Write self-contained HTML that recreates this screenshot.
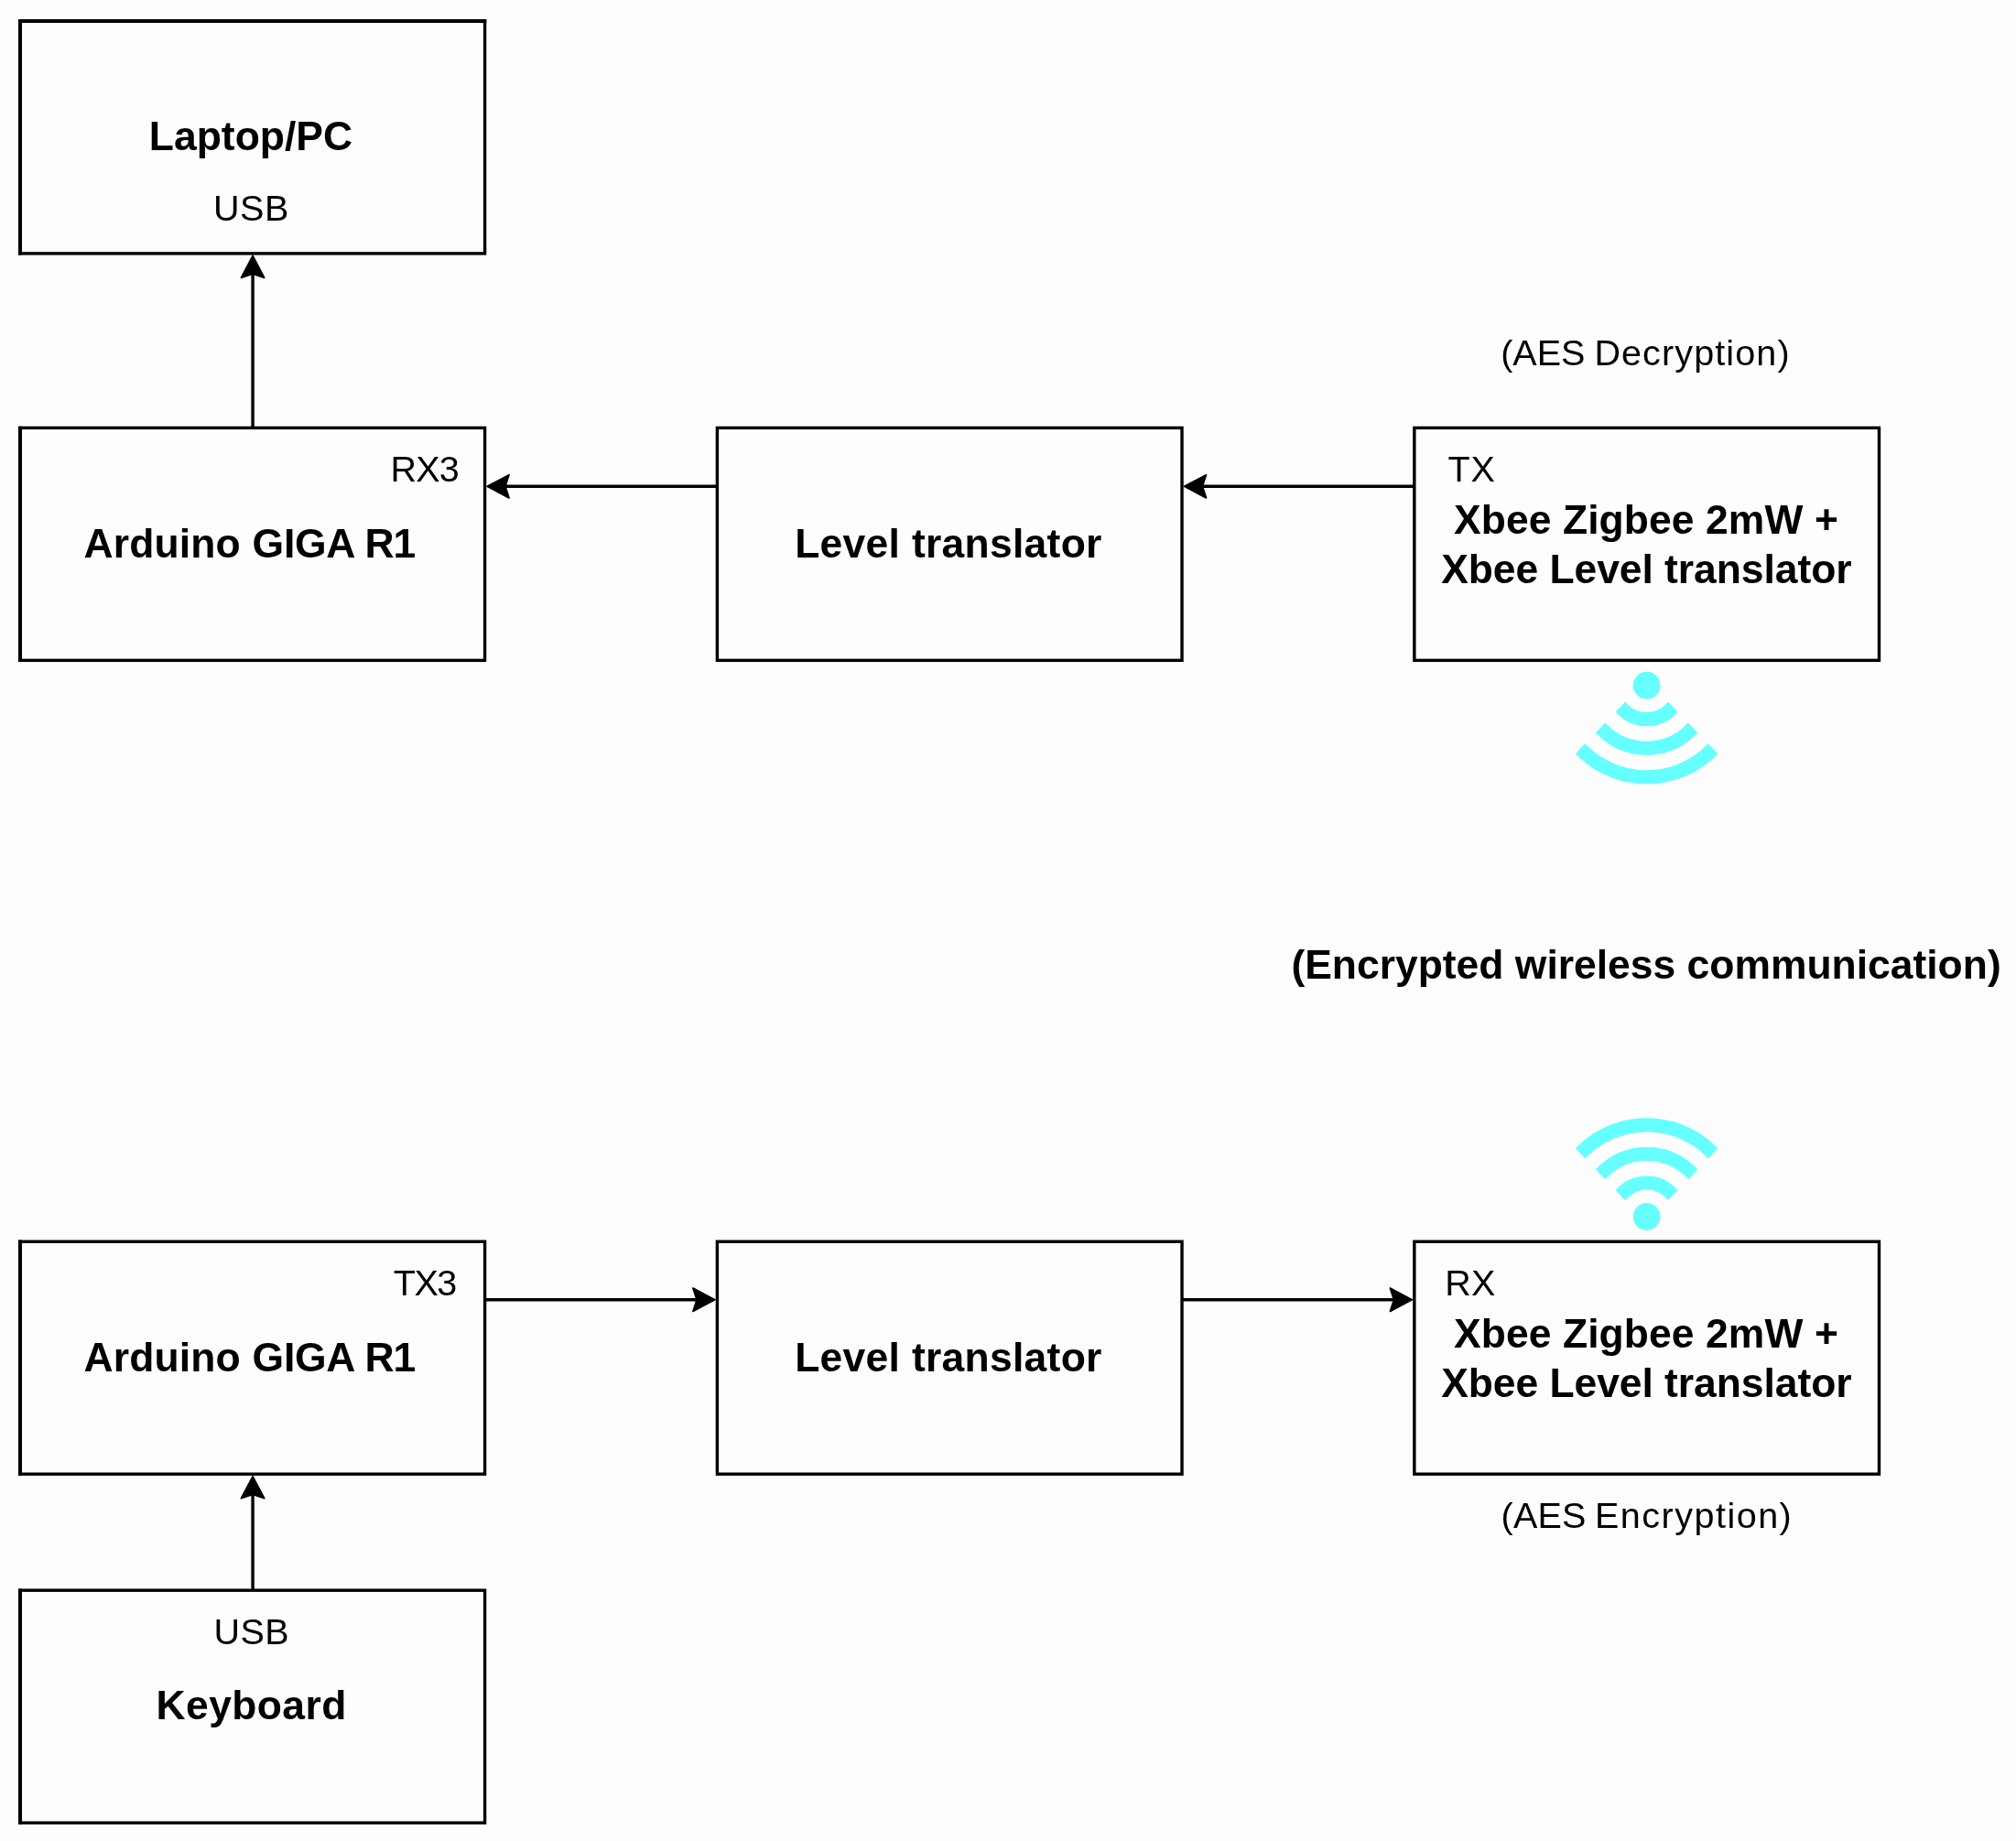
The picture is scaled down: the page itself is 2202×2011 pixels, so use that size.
<!DOCTYPE html>
<html lang="en"><head><meta charset="utf-8"><title>Encrypted wireless keyboard block diagram</title>
<style>html,body{margin:0;padding:0;background:#fdfdfd}body{width:2202px;height:2011px;overflow:hidden}svg{display:block;filter:blur(0.6px)}text{font-family:"Liberation Sans",sans-serif;fill:#000}.b{font-weight:bold;font-size:44.43px}.r{font-weight:normal;font-size:39.50px}</style></head><body>
<svg width="2202" height="2011" viewBox="0 0 2202 2011">
<rect x="0" y="0" width="2202" height="2011" fill="#fdfdfd"/>
<g id="boxes">
<rect x="21.95" y="22.95" width="507.63" height="253.96" fill="#fdfdfd" stroke="#000" stroke-width="3.4"/>
<rect x="21.95" y="467.38" width="507.63" height="253.96" fill="#fdfdfd" stroke="#000" stroke-width="3.4"/>
<rect x="783.40" y="467.38" width="507.63" height="253.96" fill="#fdfdfd" stroke="#000" stroke-width="3.4"/>
<rect x="1544.85" y="467.38" width="507.63" height="253.96" fill="#fdfdfd" stroke="#000" stroke-width="3.4"/>
<rect x="21.95" y="1356.24" width="507.63" height="253.96" fill="#fdfdfd" stroke="#000" stroke-width="3.4"/>
<rect x="783.40" y="1356.24" width="507.63" height="253.96" fill="#fdfdfd" stroke="#000" stroke-width="3.4"/>
<rect x="1544.85" y="1356.24" width="507.63" height="253.96" fill="#fdfdfd" stroke="#000" stroke-width="3.4"/>
<rect x="21.95" y="1737.18" width="507.63" height="253.96" fill="#fdfdfd" stroke="#000" stroke-width="3.4"/>
<path d="M22.00 21.25V278.61" fill="none" stroke="#000" stroke-width="4.05"/>
<path d="M19.95 22.95H531.28" fill="none" stroke="#000" stroke-width="4.1"/>
<path d="M22.00 465.68V723.04" fill="none" stroke="#000" stroke-width="4.05"/>
<path d="M22.00 1354.54V1611.90" fill="none" stroke="#000" stroke-width="4.05"/>
<path d="M22.00 1735.48V1992.84" fill="none" stroke="#000" stroke-width="4.05"/>
</g>
<g id="arrows">
<path d="M276.08 467.38L276.08 298.21" fill="none" stroke="#000" stroke-width="3.4"/>
<polygon points="276.08,279.51 288.68,303.31 276.08,299.21 263.48,303.31" fill="#000" stroke="#000" stroke-width="1.8" stroke-linejoin="round"/>
<path d="M783.40 531.28L550.88 531.28" fill="none" stroke="#000" stroke-width="3.4"/>
<polygon points="532.18,531.28 555.98,518.68 551.88,531.28 555.98,543.88" fill="#000" stroke="#000" stroke-width="1.8" stroke-linejoin="round"/>
<path d="M1544.85 531.28L1312.33 531.28" fill="none" stroke="#000" stroke-width="3.4"/>
<polygon points="1293.63,531.28 1317.43,518.68 1313.33,531.28 1317.43,543.88" fill="#000" stroke="#000" stroke-width="1.8" stroke-linejoin="round"/>
<path d="M529.58 1419.73L762.10 1419.73" fill="none" stroke="#000" stroke-width="3.4"/>
<polygon points="780.80,1419.73 757.00,1432.33 761.10,1419.73 757.00,1407.13" fill="#000" stroke="#000" stroke-width="1.8" stroke-linejoin="round"/>
<path d="M1291.03 1419.73L1523.55 1419.73" fill="none" stroke="#000" stroke-width="3.4"/>
<polygon points="1542.25,1419.73 1518.45,1432.33 1522.55,1419.73 1518.45,1407.13" fill="#000" stroke="#000" stroke-width="1.8" stroke-linejoin="round"/>
<path d="M276.08 1737.18L276.08 1631.50" fill="none" stroke="#000" stroke-width="3.4"/>
<polygon points="276.08,1612.80 288.68,1636.60 276.08,1632.50 263.48,1636.60" fill="#000" stroke="#000" stroke-width="1.8" stroke-linejoin="round"/>
</g>
<g id="wifi">
<clipPath id="wclip1"><polygon points="1798.60,742.20 1645.17,902.20 1952.03,902.20"/></clipPath>
<circle cx="1798.60" cy="748.70" r="14.9" fill="#66ffff"/>
<g clip-path="url(#wclip1)" fill="none" stroke="#66ffff">
<circle cx="1798.60" cy="748.70" r="37.00" stroke-width="15.20"/>
<circle cx="1798.60" cy="748.70" r="68.50" stroke-width="15.00"/>
<circle cx="1798.60" cy="748.70" r="100.15" stroke-width="15.30"/>
</g>
<clipPath id="wclip2"><polygon points="1798.60,1335.50 1645.17,1175.50 1952.03,1175.50"/></clipPath>
<circle cx="1798.60" cy="1329.00" r="14.9" fill="#66ffff"/>
<g clip-path="url(#wclip2)" fill="none" stroke="#66ffff">
<circle cx="1798.60" cy="1329.00" r="37.00" stroke-width="15.20"/>
<circle cx="1798.60" cy="1329.00" r="68.50" stroke-width="15.00"/>
<circle cx="1798.60" cy="1329.00" r="100.15" stroke-width="15.30"/>
</g>
</g>
<g id="labels">
<text id="t0" class="b" x="162.80" y="164.20" style="letter-spacing:0.019px">Laptop/PC</text>
<text id="t1" class="r" x="233.00" y="240.60" style="letter-spacing:0.525px">USB</text>
<text id="t2" class="r" x="426.60" y="525.80" style="letter-spacing:-0.800px">RX3</text>
<text id="t3" class="b" x="91.60" y="608.90" style="letter-spacing:0.133px">Arduino</text>
<text id="t4" class="b" x="275.60" y="608.90" style="letter-spacing:-0.233px">GIGA</text>
<text id="t5" class="b" x="398.60" y="608.90" style="letter-spacing:-1.200px">R1</text>
<text id="t6" class="b" x="868.20" y="608.90" style="letter-spacing:0.293px">Level translator</text>
<text id="t7" class="r" x="1581.40" y="526.00" style="letter-spacing:1.000px">TX</text>
<text id="t8" class="b" x="1588.00" y="583.00" style="letter-spacing:0.087px">Xbee Zigbee 2mW +</text>
<text id="t9" class="b" x="1574.20" y="637.10" style="letter-spacing:-0.050px">Xbee Level translator</text>
<text id="t10" class="r" x="1639.20" y="399.10" style="letter-spacing:0.000px">(AES</text>
<text id="t11" class="r" x="1741.40" y="399.10" style="letter-spacing:1.120px">Decryption)</text>
<text id="t12" class="b" x="1410.40" y="1068.80" style="letter-spacing:0.006px">(Encrypted wireless communication)</text>
<text id="t13" class="r" x="429.80" y="1414.60" style="letter-spacing:-1.450px">TX3</text>
<text id="t14" class="b" x="91.60" y="1497.60" style="letter-spacing:0.133px">Arduino</text>
<text id="t15" class="b" x="275.60" y="1497.60" style="letter-spacing:-0.233px">GIGA</text>
<text id="t16" class="b" x="398.60" y="1497.60" style="letter-spacing:-1.200px">R1</text>
<text id="t17" class="b" x="868.20" y="1497.60" style="letter-spacing:0.293px">Level translator</text>
<text id="t18" class="r" x="1578.20" y="1414.50" style="letter-spacing:0.400px">RX</text>
<text id="t19" class="b" x="1588.00" y="1471.90" style="letter-spacing:0.087px">Xbee Zigbee 2mW +</text>
<text id="t20" class="b" x="1574.20" y="1526.00" style="letter-spacing:-0.050px">Xbee Level translator</text>
<text id="t21" class="r" x="1639.60" y="1668.50" style="letter-spacing:0.167px">(AES</text>
<text id="t22" class="r" x="1742.00" y="1668.50" style="letter-spacing:1.500px">Encryption)</text>
<text id="t23" class="r" x="233.40" y="1795.50" style="letter-spacing:0.550px">USB</text>
<text id="t24" class="b" x="170.60" y="1878.10" style="letter-spacing:0.400px">Keyboard</text>
</g>
</svg></body></html>
